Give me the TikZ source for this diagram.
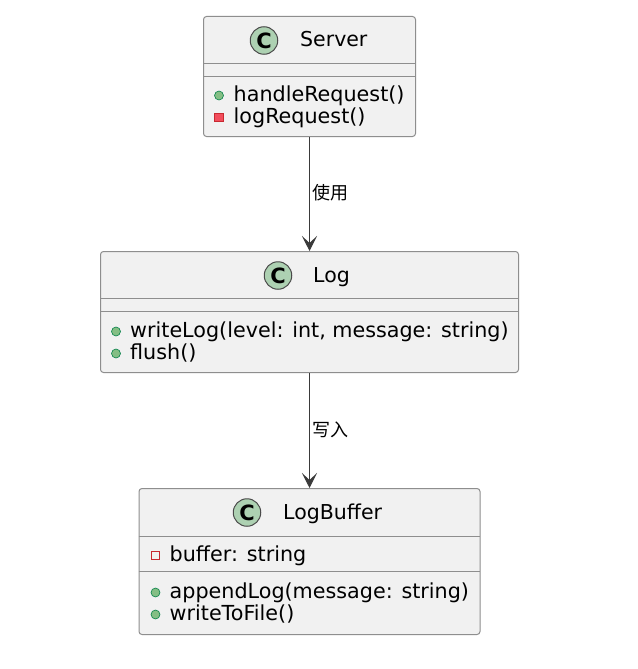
\documentclass[tikz,border=0pt]{standalone}
\usepackage{fontspec}
\setmainfont{DejaVu Sans}
\newfontfamily\cjkfont{Noto Sans CJK SC}
\usetikzlibrary{arrows.meta}

\definecolor{boxfill}{HTML}{F1F1F1}
\definecolor{boxline}{HTML}{8E8E8E}
\definecolor{arrowline}{HTML}{3A3A3A}
\definecolor{cfill}{HTML}{ADD1B2}
\definecolor{cline}{HTML}{4A4A4A}
\definecolor{pubfill}{HTML}{84BE84}
\definecolor{publine}{HTML}{038048}
\definecolor{privfill}{HTML}{F24D5C}
\definecolor{privline}{HTML}{C82930}

\tikzset{
  classbox/.style={draw=boxline, fill=boxfill, line width=1pt, rounded corners=3pt, anchor=north west, inner sep=0pt},
  sepline/.style={draw=boxline, line width=1pt},
  badge/.style={circle, draw=cline, fill=cfill, line width=1pt, minimum size=27.5pt, inner sep=0pt, font=\fontsize{21}{21}\selectfont\bfseries},
  classname/.style={anchor=base west, inner sep=0pt, font=\fontsize{20.5}{20.5}\selectfont},
  membertext/.style={anchor=base west, inner sep=0pt, font=\fontsize{20.7}{20.7}\selectfont},
  pub/.style={circle, draw=publine, fill=pubfill, line width=0.6pt, minimum size=9pt, inner sep=0pt},
  priv/.style={rectangle, draw=privline, fill=privfill, line width=0.6pt, minimum size=8.5pt, inner sep=0pt},
  privfield/.style={rectangle, draw=privline, fill=boxfill, line width=0.9pt, minimum size=8.5pt, inner sep=0pt},
  uses/.style={-{Stealth[length=15pt,width=15pt,inset=7pt]}, draw=arrowline, line width=1pt},
  edgelabel/.style={anchor=west, inner sep=0pt, font=\cjkfont\fontsize{18}{18}\selectfont}
}

\begin{document}
\begin{tikzpicture}[x=1pt,y=-1pt]
        \fill[white] (0,0) rectangle (637,669);
        \useasboundingbox (0,0) rectangle (637,669);

        % Server
        \node[classbox, minimum width=212pt, minimum height=120pt] (server) at (203,16) {};
        \draw[sepline] (203,64) -- (415,64);
        \draw[sepline] (203,76) -- (415,76);
        \node[badge] (serverC) at (264,40.5) {C};
        \node[classname] (servername) at (300,46.5) {Server};
        \node[pub] (serverpub1) at (219,95.5) {};
        \node[membertext] (serverm1) at (233.5,101) {handleRequest()};
        \node[priv] (serverpriv1) at (219,117.5) {};
        \node[membertext] (serverm2) at (233.5,123) {logRequest()};

        % Log
        \node[classbox, minimum width=418pt, minimum height=121pt] (log) at (100,251) {};
        \draw[sepline] (100,298) -- (518,298);
        \draw[sepline] (100,311) -- (518,311);
        \node[badge] (logC) at (278,275.5) {C};
        \node[classname] (logname) at (313,282) {Log};
        \node[pub] (logpub1) at (116,331.5) {};
        \node[membertext] (logm1) at (130,337) {writeLog(level: int, message: string)};
        \node[pub] (logpub2) at (116,353.5) {};
        \node[membertext] (logm2) at (130,359) {flush()};

        % LogBuffer
        \node[classbox, minimum width=341pt, minimum height=146pt] (buffer) at (138.5,488) {};
        \draw[sepline] (138.5,536) -- (479.5,536);
        \draw[sepline] (138.5,571) -- (479.5,571);
        \node[badge] (bufferC) at (247,512.5) {C};
        \node[classname] (buffername) at (283,519) {LogBuffer};
        \node[privfield] (bufferpriv1) at (155.5,555.5) {};
        \node[membertext] (bufferf1) at (169.5,561) {buffer: string};
        \node[pub] (bufferpub1) at (155.5,592.5) {};
        \node[membertext] (bufferm1) at (169.5,598) {appendLog(message: string)};
        \node[pub] (bufferpub2) at (155.5,614.5) {};
        \node[membertext] (bufferm2) at (169.5,620) {writeToFile()};

        % Relations
        \draw[uses] (server.south) -- (log.north);
        \draw[uses] (log.south) -- (buffer.north);
        \node[edgelabel] (uselabel) at (312,193) {使用};
        \node[edgelabel] (writelabel) at (312,430) {写入};
    \end{tikzpicture}
\end{document}
